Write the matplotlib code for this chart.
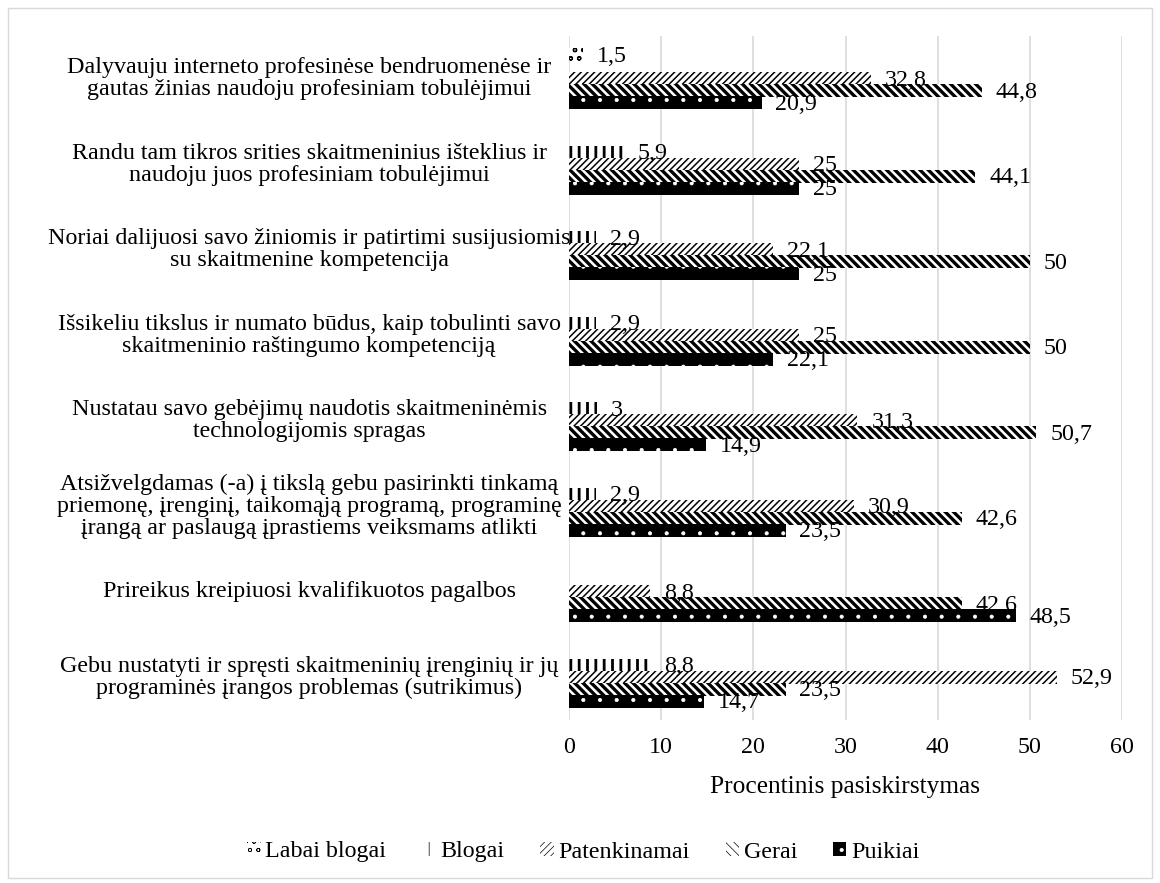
import numpy as np
import matplotlib
matplotlib.use("Agg")
import matplotlib.pyplot as plt
import matplotlib.transforms as mtransforms
from matplotlib.patches import Rectangle

plt.rcParams['font.family'] = ['Liberation Serif', 'DejaVu Serif']

# Survey statements (top to bottom)
categories = [
    "Dalyvauju interneto profesinėse bendruomenėse ir\ngautas žinias naudoju profesiniam tobulėjimui",
    "Randu tam tikros srities skaitmeninius išteklius ir\nnaudoju juos profesiniam tobulėjimui",
    "Noriai dalijuosi savo žiniomis ir patirtimi susijusiomis\nsu skaitmenine kompetencija",
    "Išsikeliu tikslus ir numato būdus, kaip tobulinti savo\nskaitmeninio raštingumo kompetenciją",
    "Nustatau savo gebėjimų naudotis skaitmeninėmis\ntechnologijomis spragas",
    "Atsižvelgdamas (-a) į tikslą gebu pasirinkti tinkamą\npriemonę, įrenginį, taikomąją programą, programinę\nįrangą ar paslaugą įprastiems veiksmams atlikti",
    "Prireikus kreipiuosi kvalifikuotos pagalbos",
    "Gebu nustatyti ir spręsti skaitmeninių įrenginių ir jų\nprograminės įrangos problemas (sutrikimus)",
]

series_names = ["Labai blogai", "Blogai", "Patenkinamai", "Gerai", "Puikiai"]

labai_blogai = [1.5, 0, 0, 0, 0, 0, 0, 0]
blogai = [0, 5.9, 2.9, 2.9, 3, 2.9, 0, 8.8]
patenkinamai = [32.8, 25, 22.1, 25, 31.3, 30.9, 8.8, 52.9]
gerai = [44.8, 44.1, 50, 50, 50.7, 42.6, 42.6, 23.5]
puikiai = [20.9, 25, 25, 22.1, 14.9, 23.5, 48.5, 14.7]

values = [labai_blogai, blogai, patenkinamai, gerai, puikiai]

# fill, hatch colour, hatch pattern, hatch line width
styles = [
    ("white", "black", "oo", 0.9),
    ("white", "black", "||", 2.0),
    ("white", "black", "/////", 1.1),
    ("white", "black", "\\\\\\\\", 2.4),
    ("black", "white", ".", 0.5),
]

FS = 17.3

fig = plt.figure(figsize=(11.6, 8.83), dpi=100)
fig.patches.append(Rectangle((8 / 1160, 5 / 883), 1144 / 1160, 870 / 883,
                             transform=fig.transFigure, fill=False,
                             edgecolor="#d9d9d9", linewidth=1))
ax = fig.add_axes([569 / 1160, 1 - 720 / 883, 553 / 1160, 684 / 883])

y = np.arange(len(categories))
step = 0.14
height = 0.155

for i, (name, vals) in enumerate(zip(series_names, values)):
    face, hcol, hatch, hlw = styles[i]
    plt.rcParams['hatch.linewidth'] = hlw
    pos = y + (i - 2) * step
    bars = ax.barh(pos, vals, height=height, color=face, edgecolor=hcol,
                   hatch=hatch, linewidth=0, label=name, zorder=2 + i)
    for b in bars:
        if hasattr(b, "set_hatch_linewidth"):
            b.set_hatch_linewidth(hlw)
    for p, v in zip(pos, vals):
        if v > 0:
            ax.text(v + 1.5, p + 0.02, f"{v:g}".replace(".", ","),
                    va="center", ha="left", fontsize=FS, zorder=10)

ax.set_xlim(0, 60)
ax.set_xticks(np.arange(0, 61, 10))
ax.set_ylim(len(categories) - 0.5, -0.5)
ax.set_yticks([])
ax.grid(axis="x", color="#d9d9d9", linewidth=1.2, zorder=0)
ax.tick_params(axis="x", length=0, labelsize=FS, pad=12)
for s in ax.spines.values():
    s.set_visible(False)
ax.set_xlabel("Procentinis pasiskirstymas", fontsize=FS + 1, labelpad=13)

trans = mtransforms.blended_transform_factory(ax.transAxes, ax.transData)
for yi, cat in zip(y, categories):
    ax.text(-0.47, yi, cat, transform=trans, ha="center", va="center",
            multialignment="center", fontsize=FS, linespacing=1.05)

leg = fig.legend(loc="center", bbox_to_anchor=(0.503, 1 - 852 / 883), ncol=5,
                 frameon=False, fontsize=FS, handlelength=0.55, handleheight=0.55,
                 handletextpad=0.2, columnspacing=1.5)

fig.savefig("out.png", dpi=100)
